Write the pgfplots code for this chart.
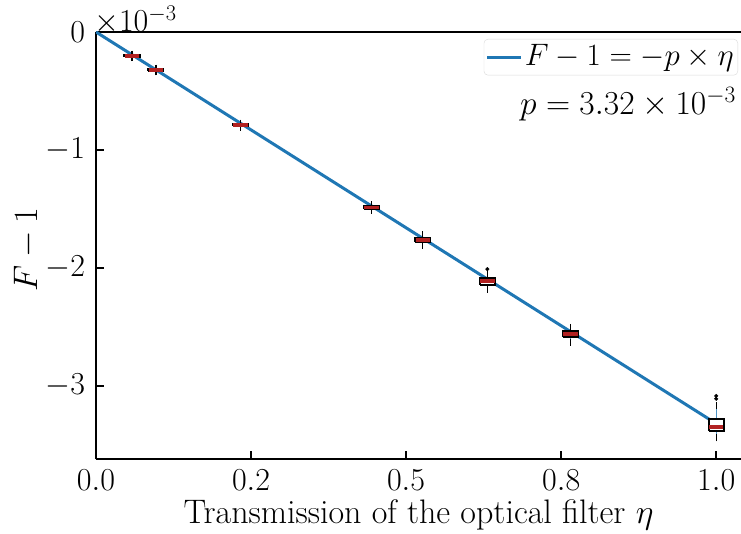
\RequirePackage{fix-cm}
\documentclass[border=0pt]{standalone}
\usepackage{pgfplots}
\pgfplotsset{compat=1.18}
\definecolor{C0}{HTML}{1F77B4}
\definecolor{medred}{HTML}{B22222}
\newcommand{\bigf}{\fontsize{32}{38}\selectfont}
\newcommand{\labf}{\fontsize{34}{40}\selectfont}
\begin{document}
\bigf
\begin{tikzpicture}
\begin{axis}[
  scale only axis, width=645pt, height=427pt,
  xmin=0, xmax=1.04, ymin=-3.62, ymax=0,
  axis x line*=box, axis y line*=left,
  axis line style={-, line width=1.6pt, black},
  xtick={0,0.25,0.5,0.75,1.0}, xticklabels={$0.0$,$0.2$,$0.5$,$0.8$,$1.0$},
  ytick={0,-1,-2,-3}, yticklabels={$0$,$-1$,$-2$,$-3$},
  xtick pos=left, ytick pos=left, tick align=inside,
  major tick length=8pt, every tick/.style={black, line width=1.6pt},
  tick label style={font=\bigf},
  label style={font=\labf},
  xlabel={Transmission of the optical filter $\eta$},
  xlabel style={at={(axis description cs:0.5,0)}, anchor=base, yshift=-64pt},
  ylabel={$F-1$},
  ylabel style={at={(axis description cs:-0.107,0.49)}, anchor=center},
  unbounded coords=jump,
  legend style={at={(1,1)}, anchor=north east, xshift=-3pt, yshift=-7pt,
    font=\fontsize{31}{37}\selectfont,
    draw=gray!30, rounded corners=4pt, fill=white, inner xsep=2pt, inner ysep=1pt,
    nodes={inner xsep=2pt, inner ysep=4pt}},
  legend image code/.code={\draw[#1, line width=3pt] (0pt,0pt) -- (34pt,0pt);},
]
\addplot[C0, line width=3pt] coordinates {(0,0) (1,-3.32)};
\addlegendentry{$F-1=-p\times\eta$}

% whiskers (median, upper and lower whisker distances)
\addplot[draw=none, forget plot,
  error bars/.cd, y dir=both, y explicit,
  error bar style={draw=C0!80, line width=1.2pt},
  error mark options={draw=black, line width=1.2pt, mark size=3.5pt}]
coordinates {
 (0.058,-0.203)  += (0,0.015) -= (0,0.015)
 (0.0966,-0.322) += (0,0.016) -= (0,0.016)
 (0.233,-0.790)  += (0,0.018) -= (0,0.018)
 (0.444,-1.487)  += (0,0.022) -= (0,0.023)
 (0.527,-1.763)  += (0,0.043) -= (0,0.047)
 (0.631,-2.110)  += (0,0.060) -= (0,0.070)
 (0.765,-2.560)  += (0,0.055) -= (0,0.070)
 (1.000,-3.347)  += (0,0.177) -= (0,0.093)
};

% boxes (lower and upper quartiles)
\addplot[forget plot, draw=black, fill=white, line width=2.2pt, line join=miter] coordinates {
 (0.046,-0.213) (0.070,-0.213) (0.070,-0.193) (0.046,-0.193) (0.046,-0.213) (0.046,nan)
 (0.0846,-0.332) (0.1086,-0.332) (0.1086,-0.312) (0.0846,-0.312) (0.0846,-0.332) (0.0846,nan)
 (0.221,-0.800) (0.245,-0.800) (0.245,-0.778) (0.221,-0.778) (0.221,-0.800) (0.221,nan)
 (0.432,-1.500) (0.456,-1.500) (0.456,-1.472) (0.432,-1.472) (0.432,-1.500) (0.432,nan)
 (0.515,-1.778) (0.539,-1.778) (0.539,-1.745) (0.515,-1.745) (0.515,-1.778) (0.515,nan)
 (0.619,-2.145) (0.643,-2.145) (0.643,-2.090) (0.619,-2.090) (0.619,-2.145) (0.619,nan)
 (0.753,-2.585) (0.777,-2.585) (0.777,-2.538) (0.753,-2.538) (0.753,-2.585) (0.753,nan)
 (0.988,-3.380) (1.012,-3.380) (1.012,-3.280) (0.988,-3.280) (0.988,-3.380)
};

% medians
\addplot[forget plot, only marks, mark=-, mark size=7.2pt, mark options={draw=medred, line width=3.5pt}] coordinates {
 (0.058,-0.203) (0.0966,-0.322) (0.233,-0.790) (0.444,-1.487)
 (0.527,-1.763) (0.631,-2.110) (0.765,-2.560) (1.000,-3.347)
};

% outliers
\addplot[forget plot, only marks, mark=*, mark size=1.8pt, mark options={black}] coordinates {
 (0.631,-2.010) (1.000,-3.085) (1.000,-3.110)
};

\coordinate (BL) at (rel axis cs:0,0);
\coordinate (TR) at (rel axis cs:1,1);
\node[anchor=base east, inner sep=0pt, xshift=-5pt, yshift=-83pt, font=\fontsize{33.5}{40}\selectfont] at (rel axis cs:1,1) {$p=3.32\times10^{-3}$};
\end{axis}
\path (BL|-TR) ++(-2pt,0pt) node[anchor=base west, inner sep=0pt] {$\times10^{-3}$};
\pgfresetboundingbox
\useasboundingbox ([xshift=-96pt,yshift=-74pt]BL) rectangle ([yshift=32pt]TR);
\end{tikzpicture}
\end{document}
